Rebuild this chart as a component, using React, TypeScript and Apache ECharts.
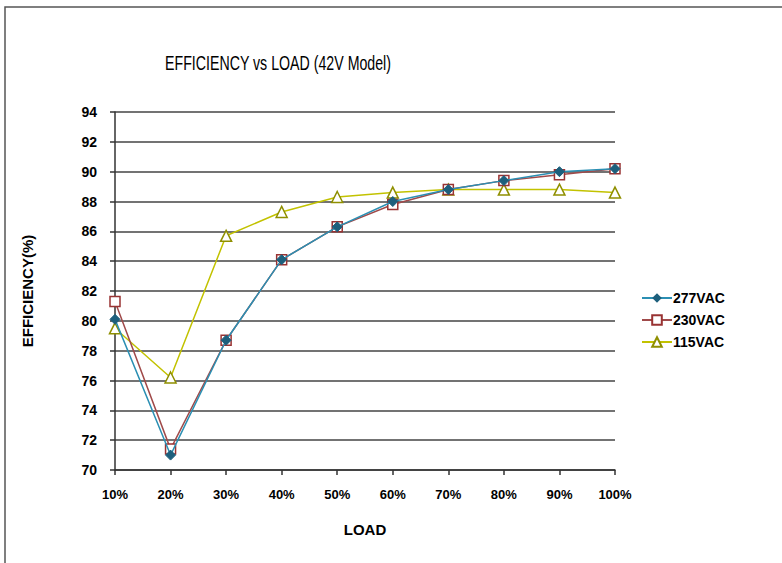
import React, { useEffect, useRef } from "react";
import * as echarts from "echarts";

const categories = ["10%", "20%", "30%", "40%", "50%", "60%", "70%", "80%", "90%", "100%"];
const v277 = [80.1, 71.0, 78.7, 84.1, 86.3, 88.0, 88.8, 89.4, 90.0, 90.2];
const v230 = [81.3, 71.4, 78.7, 84.1, 86.3, 87.8, 88.8, 89.4, 89.8, 90.2];
const v115 = [79.5, 76.2, 85.7, 87.3, 88.3, 88.6, 88.8, 88.8, 88.8, 88.6];
const yMin = 70;
const yMax = 94;
const yStep = 2;
const titleText = "EFFICIENCY vs LOAD (42V Model)";

const FONT = "'Liberation Sans', Arial, sans-serif";

export default function App() {
  const ref = useRef<HTMLDivElement>(null);
  useEffect(() => {
    document.body.style.margin = "0";
    const chart = echarts.init(ref.current!, null, { renderer: "svg" });
    const labelStyle = { fontFamily: FONT, fontWeight: "bold" as const, fontSize: 13, color: "#000" };
    chart.setOption({
      animation: false,
      backgroundColor: "#fff",
      graphic: [
        {
          type: "rect",
          shape: { x: 5, y: 7, width: 800, height: 600 },
          style: { fill: "none", stroke: "#555", lineWidth: 1.5 },
          silent: true,
        },
        {
          type: "text",
          x: 165,
          y: 63,
          scaleX: 0.71,
          style: {
            text: titleText,
            fontFamily: FONT,
            fontSize: 20,
            fontWeight: "normal",
            fill: "#000",
            verticalAlign: "middle",
            align: "left",
          },
          silent: true,
        },
      ],
      grid: { left: 115, right: 167, top: 112, bottom: 93 },
      legend: {
        orient: "vertical",
        left: 636,
        top: 286,
        itemWidth: 30,
        itemHeight: 12,
        itemGap: 8,
        textStyle: { ...labelStyle, fontSize: 14, padding: [0, 0, 0, -4] },
        data: ["277VAC", "230VAC", "115VAC"],
      },
      xAxis: {
        type: "category",
        data: categories,
        boundaryGap: false,
        name: "LOAD",
        nameLocation: "middle",
        nameGap: 52,
        nameTextStyle: { ...labelStyle, fontSize: 15 },
        axisLine: { lineStyle: { color: "#333", width: 1.5 } },
        axisTick: { length: 5, lineStyle: { color: "#333", width: 1.5 } },
        axisLabel: { ...labelStyle, margin: 18 },
        splitLine: { show: false },
      },
      yAxis: {
        type: "value",
        min: yMin,
        max: yMax,
        interval: yStep,
        name: "EFFICIENCY(%)",
        nameLocation: "middle",
        nameGap: 80,
        nameRotate: 90,
        nameTextStyle: { ...labelStyle, fontSize: 15 },
        axisLine: { show: true, lineStyle: { color: "#333", width: 1.5 } },
        axisTick: { show: true, length: 5, lineStyle: { color: "#333", width: 1.5 } },
        axisLabel: { ...labelStyle, fontSize: 14, margin: 18 },
        splitLine: { lineStyle: { color: "#444", width: 1.5 } },
      },
      series: [
        {
          name: "277VAC",
          type: "line",
          data: v277,
          symbol: "diamond",
          symbolSize: 10,
          lineStyle: { color: "#2b8fb3", width: 1.5 },
          itemStyle: { color: "#1d5f7c", borderColor: "#1d5f7c" },
          z: 4,
        },
        {
          name: "230VAC",
          type: "line",
          data: v230,
          symbol: "rect",
          symbolSize: 10,
          lineStyle: { color: "#a04a4a", width: 1.5 },
          itemStyle: { color: "#fff", borderColor: "#993333", borderWidth: 1.5 },
          z: 3,
        },
        {
          name: "115VAC",
          type: "line",
          data: v115,
          symbol: "triangle",
          symbolSize: 11,
          lineStyle: { color: "#c2c200", width: 1.5 },
          itemStyle: { color: "#fff", borderColor: "#8f8f00", borderWidth: 1.5 },
          z: 2,
        },
      ],
    });
    return () => chart.dispose();
  }, []);
  return <div ref={ref} style={{ width: 782, height: 563 }} />;
}
